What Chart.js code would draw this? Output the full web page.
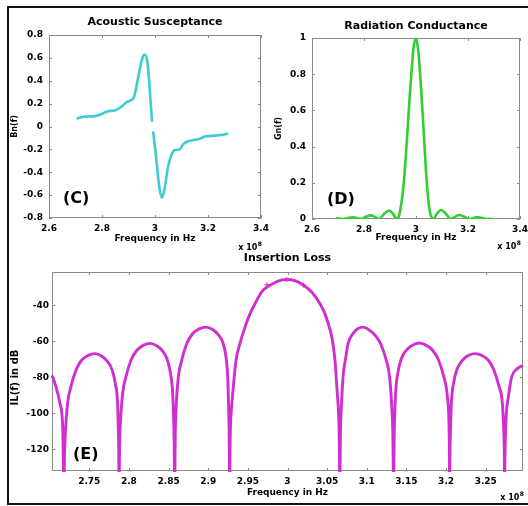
<!DOCTYPE html>
<html>
<head>
<meta charset="utf-8">
<script src="https://cdn.jsdelivr.net/npm/chart.js@4.4.0/dist/chart.umd.min.js"></script>
<style>
  body { margin: 0; background: #fff; }
  #moldura { position: absolute; left: 7px; top: 6px; width: 530px; height: 495px;
             border-left: 2px solid #111; border-top: 2px solid #111; border-bottom: 2px solid #111; }
  canvas { position: absolute; left: 0; top: 0; }
</style>
</head>
<body>
<div id="moldura"></div>
<canvas id="graficoC" width="528" height="506"></canvas>
<canvas id="graficoD" width="528" height="506"></canvas>
<canvas id="graficoE" width="528" height="506"></canvas>
<script>
// (C) Acoustic Susceptance
const cFreq = [2.704, 2.737, 2.774, 2.799, 2.823, 2.848, 2.872, 2.891, 2.909, 2.921, 2.934, 2.946, 2.955, 2.961,
               2.971, 2.977, 2.983, 2.989, 2.991, 2.993, 3.001, 3.010, 3.017, 3.026, 3.034, 3.042, 3.050, 3.063,
               3.075, 3.093, 3.106, 3.124, 3.142, 3.167, 3.191, 3.228, 3.277];
const cSusc = [0.071, 0.086, 0.091, 0.11, 0.134, 0.14, 0.17, 0.21, 0.229, 0.26, 0.40, 0.54, 0.614, 0.629,
               0.571, 0.429, 0.229, 0.043, null, -0.043, -0.2, -0.4, -0.543, -0.623, -0.571, -0.457, -0.343, -0.243,
               -0.206, -0.2, -0.157, -0.129, -0.12, -0.109, -0.086, -0.080, -0.063];
const cTicksX = [2.6, 2.8, 3, 3.2, 3.4];
const cTicksY = [-0.8, -0.6, -0.4, -0.2, 0, 0.2, 0.4, 0.6, 0.8];

// (D) Radiation Conductance
const dFreq = [2.692, 2.705, 2.718, 2.737, 2.757, 2.773, 2.7875, 2.806, 2.826, 2.842, 2.8577, 2.877, 2.897, 2.913,
               2.927, 2.935, 2.945, 2.953, 2.96, 2.967, 2.975, 2.983, 2.991, 2.999, 3.007, 3.015, 3.023, 3.031,
               3.039, 3.047, 3.055, 3.066, 3.081, 3.096, 3.116, 3.1339, 3.151, 3.166, 3.186, 3.2045, 3.221, 3.236,
               3.256, 3.2738, 3.291];
const dCond = [0.004, 0.003, 0, 0.005, 0.009, 0.005, 0, 0.012, 0.02, 0.012, 0, 0.028, 0.046, 0.026,
               0, 0.02, 0.1, 0.2, 0.33, 0.48, 0.66, 0.82, 0.95, 1.0, 0.95, 0.82, 0.64, 0.45,
               0.25, 0.11, 0.03, 0, 0.03, 0.05, 0.028, 0, 0.013, 0.022, 0.012, 0, 0.006, 0.011,
               0.005, 0, 0.003];
const dTicksX = [2.6, 2.8, 3, 3.2, 3.4];
const dTicksY = [0, 0.2, 0.4, 0.6, 0.8, 1];

// (E) Insertion Loss
const eFreq = [
  2.703, 2.7068, 2.7131, 2.7165, 2.718,
  2.7188, 2.7197, 2.7226, 2.7269, 2.7332, 2.740, 2.748, 2.7572, 2.7655, 2.7725, 2.779, 2.783, 2.7857, 2.7868, 2.7872, 2.7875,
  2.7883, 2.7892, 2.7921, 2.7964, 2.8027, 2.810, 2.818, 2.8266, 2.835, 2.842, 2.8485, 2.8525, 2.8552, 2.8566, 2.8571, 2.8577,
  2.8585, 2.8594, 2.8623, 2.8666, 2.8729, 2.880, 2.888, 2.8972, 2.9055, 2.912, 2.919, 2.9225, 2.9246, 2.9258, 2.9264, 2.927,
  2.9278, 2.9292, 2.9309, 2.9351, 2.9405, 2.9464, 2.9525, 2.959, 2.968, 2.978, 2.988, 2.999,
  3.009, 3.0199, 3.031, 3.041, 3.0465, 3.0514, 3.056, 3.0599, 3.0628, 3.0642, 3.0652, 3.066,
  3.0668, 3.0678, 3.07, 3.0735, 3.0763, 3.083, 3.089, 3.0952, 3.106, 3.112, 3.1175, 3.1246, 3.1288, 3.1317, 3.1328, 3.1339,
  3.1344, 3.1349, 3.1363, 3.139, 3.143, 3.1495, 3.1565, 3.1662, 3.175, 3.183, 3.1905, 3.197, 3.2012, 3.2037, 3.2041, 3.2045,
  3.2049, 3.2054, 3.2066, 3.2093, 3.2133, 3.2198, 3.2268, 3.2364, 3.2456, 3.2536, 3.2604, 3.2667, 3.271, 3.2729, 3.2734, 3.2738,
  3.2742, 3.2748, 3.276, 3.2785, 3.2805, 3.2825, 3.289, 3.297
];
const eLoss = [
  -79, -83.5, -94.6, -107.6, -140,
  -122, -112, -94.6, -85.1, -76.1, -70.7, -68, -66.9, -68.2, -71, -76.1, -83.7, -94.6, -112, -122, -140,
  -117, -106, -89, -79.5, -70.4, -65, -62.3, -61.2, -62.5, -65.2, -70.4, -78, -89, -106, -117, -140,
  -110, -98, -80, -70.6, -61.4, -56, -53.3, -52.2, -53.5, -56, -61.4, -69, -80, -98, -110, -140,
  -112, -98, -89, -70.6, -60.5, -52.2, -45, -39.2, -32.3, -29.0, -26.6, -25.8,
  -26.4, -28.8, -33, -39.2, -44, -50.3, -58, -70.6, -89, -98, -112, -140,
  -110, -98, -80, -69, -61.4, -55.5, -53, -52.2, -54.8, -57.5, -61.4, -70.6, -80, -98, -110, -140,
  -117, -106, -89, -78, -70.4, -65.2, -62.5, -61.0, -62.3, -65, -70.4, -79.5, -89, -106, -117, -140,
  -122, -112, -94.6, -83.7, -76.1, -71, -68.2, -66.9, -68, -70.7, -76.1, -85.1, -94.6, -112, -122, -140,
  -125, -113, -100, -91, -85, -80, -75.5, -73.4
];
const eMarkFreq = [2.974, 2.999, 3.020];
const eMarkLoss = [-28.7, -25.8, -28.9];
const eTicksX = [2.75, 2.8, 2.85, 2.9, 2.95, 3, 3.05, 3.1, 3.15, 3.2, 3.25];
const eTicksY = [-120, -100, -80, -60, -40];

Chart.defaults.font.family = "'DejaVu Sans', Verdana, sans-serif";
Chart.defaults.font.weight = 'bold';
Chart.defaults.color = '#000';
Chart.defaults.animation = false;

function pontos(xs, ys) {
  return xs.map((v, i) => ({x: v, y: ys[i]}));
}

// caixa estilo matlab, ticks para dentro, textos
const decor = {
  id: 'decor',
  beforeDatasetsDraw(chart, args, o) {
    const {ctx, chartArea: a, scales: {x, y}} = chart;
    ctx.save();
    ctx.strokeStyle = '#8a8a8a';
    ctx.lineWidth = 1;
    ctx.strokeRect(Math.round(a.left) + 0.5, Math.round(a.top) + 0.5, Math.round(a.width) - 1, Math.round(a.height) - 1);
    ctx.beginPath();
    x.ticks.forEach(t => {
      const px = Math.round(x.getPixelForValue(t.value)) + 0.5;
      ctx.moveTo(px, a.bottom); ctx.lineTo(px, a.bottom - 3);
      ctx.moveTo(px, a.top); ctx.lineTo(px, a.top + 3);
    });
    y.ticks.forEach(t => {
      const py = Math.round(y.getPixelForValue(t.value)) + 0.5;
      ctx.moveTo(a.left, py); ctx.lineTo(a.left + 3, py);
      ctx.moveTo(a.right, py); ctx.lineTo(a.right - 3, py);
    });
    ctx.stroke();
    ctx.restore();
  },
  afterDraw(chart, args, o) {
    const {ctx, chartArea: a} = chart;
    const fam = Chart.defaults.font.family;
    const cx = (a.left + a.right) / 2;
    ctx.save();
    ctx.fillStyle = '#000';
    ctx.textBaseline = 'middle';
    ctx.textAlign = 'center';
    ctx.font = 'bold 11px ' + fam;
    ctx.fillText(o.title, cx, a.top + o.titleDy);
    ctx.font = 'bold 9px ' + fam;
    ctx.fillText(o.xTitle, cx, a.bottom + o.xTitleDy);
    // x 10^8
    ctx.textAlign = 'right';
    ctx.font = 'bold 6px ' + fam;
    ctx.fillText('8', a.right + 1, a.bottom + o.expDy - 4);
    const w8 = ctx.measureText('8').width;
    ctx.font = 'bold 8px ' + fam;
    ctx.fillText('x 10', a.right + 1 - w8 - 0.5, a.bottom + o.expDy);
    // rótulo do painel
    ctx.textAlign = 'left';
    ctx.font = 'bold 16px ' + fam;
    ctx.fillText(o.tag, a.left + o.tagDx, a.bottom + o.tagDy);
    // título do eixo y
    ctx.translate(a.left + o.yTitleDx, (a.top + a.bottom) / 2 + o.yTitleDy);
    ctx.rotate(-Math.PI / 2);
    ctx.textAlign = 'center';
    ctx.font = 'bold ' + o.yTitleSize + 'px ' + fam;
    ctx.fillText(o.yTitle, 0, 0);
    ctx.restore();
  }
};

function eixo(min, max, lista, alt, larg, pad) {
  return {
    type: 'linear', min: min, max: max, bounds: 'data',
    grid: {display: false, drawTicks: false},
    border: {display: false},
    ticks: {padding: pad, autoSkip: false, maxRotation: 0, font: {size: 9, weight: 'bold'}, color: '#000',
            callback: v => String(v)},
    afterBuildTicks: s => { s.ticks = lista.map(v => ({value: v})); },
    afterFit: s => {
      if (alt) s.height = alt;
      if (larg) s.width = larg;
      s.paddingLeft = 0; s.paddingRight = 0; s.paddingTop = 0; s.paddingBottom = 0;
    }
  };
}

//Gráfico C
const graficoC = new Chart(document.getElementById('graficoC').getContext('2d'), {
  type: 'line',
  data: {
    datasets: [{
      data: pontos(cFreq, cSusc),
      borderColor: '#3cccd4',
      borderWidth: 2.6,
      pointRadius: 0,
      spanGaps: false,
      cubicInterpolationMode: 'monotone'
    }]
  },
  options: {
    responsive: false,
    devicePixelRatio: 1,
    layout: {padding: {left: 0, top: 35, right: 267, bottom: 268}},
    scales: {
      x: eixo(2.6, 3.4, cTicksX, 20, 0, 5),
      y: eixo(-0.8, 0.8, cTicksY, 0, 49, 6)
    },
    plugins: {
      legend: {display: false},
      tooltip: {enabled: false},
      decor: {title: 'Acoustic Susceptance', titleDy: -13, xTitle: 'Frequency in Hz', xTitleDy: 21,
              expDy: 30, tag: '(C)', tagDx: 14, tagDy: -19, yTitle: 'Bn(f)', yTitleDx: -34, yTitleDy: 0, yTitleSize: 8}
    }
  },
  plugins: [decor]
});

//Gráfico D
const graficoD = new Chart(document.getElementById('graficoD').getContext('2d'), {
  type: 'line',
  data: {
    datasets: [{
      data: pontos(dFreq, dCond),
      borderColor: '#2fd02f',
      borderWidth: 2.6,
      pointRadius: 0,
      cubicInterpolationMode: 'monotone'
    }]
  },
  options: {
    responsive: false,
    devicePixelRatio: 1,
    layout: {padding: {left: 272, top: 38, right: 8, bottom: 267}},
    scales: {
      x: eixo(2.6, 3.4, dTicksX, 20, 0, 5),
      y: eixo(0, 1, dTicksY, 0, 40, 6)
    },
    plugins: {
      legend: {display: false},
      tooltip: {enabled: false},
      decor: {title: 'Radiation Conductance', titleDy: -12, xTitle: 'Frequency in Hz', xTitleDy: 19,
              expDy: 28, tag: '(D)', tagDx: 15, tagDy: -19, yTitle: 'Gn(f)', yTitleDx: -33, yTitleDy: 0, yTitleSize: 8}
    }
  },
  plugins: [decor]
});

//Gráfico E
const graficoE = new Chart(document.getElementById('graficoE').getContext('2d'), {
  type: 'line',
  data: {
    datasets: [{
      data: pontos(eFreq, eLoss),
      borderColor: '#d02ed0',
      borderWidth: 2.9,
      pointRadius: 0,
      clip: 1,
      cubicInterpolationMode: 'monotone'
    }, {
      data: pontos(eFreq, eLoss),
      borderColor: '#93308f',
      borderWidth: 1,
      pointRadius: 0,
      clip: 1,
      cubicInterpolationMode: 'monotone'
    }, {
      data: pontos(eMarkFreq, eMarkLoss),
      showLine: false,
      pointStyle: 'cross',
      pointRadius: 2.5,
      pointBorderColor: '#e8303a',
      pointBorderWidth: 1
    }]
  },
  options: {
    responsive: false,
    devicePixelRatio: 1,
    layout: {padding: {left: 7, top: 272, right: 5, bottom: 15}},
    scales: {
      x: eixo(2.703, 3.297, eTicksX, 20, 0, 5),
      y: eixo(-132, -21.6, eTicksY, 0, 45, 3)
    },
    plugins: {
      legend: {display: false},
      tooltip: {enabled: false},
      decor: {title: 'Insertion Loss', titleDy: -14, xTitle: 'Frequency in Hz', xTitleDy: 22,
              expDy: 27, tag: '(E)', tagDx: 21, tagDy: -16, yTitle: 'IL(f) in dB', yTitleDx: -37, yTitleDy: 6, yTitleSize: 10}
    }
  },
  plugins: [decor]
});
</script>
</body>
</html>
